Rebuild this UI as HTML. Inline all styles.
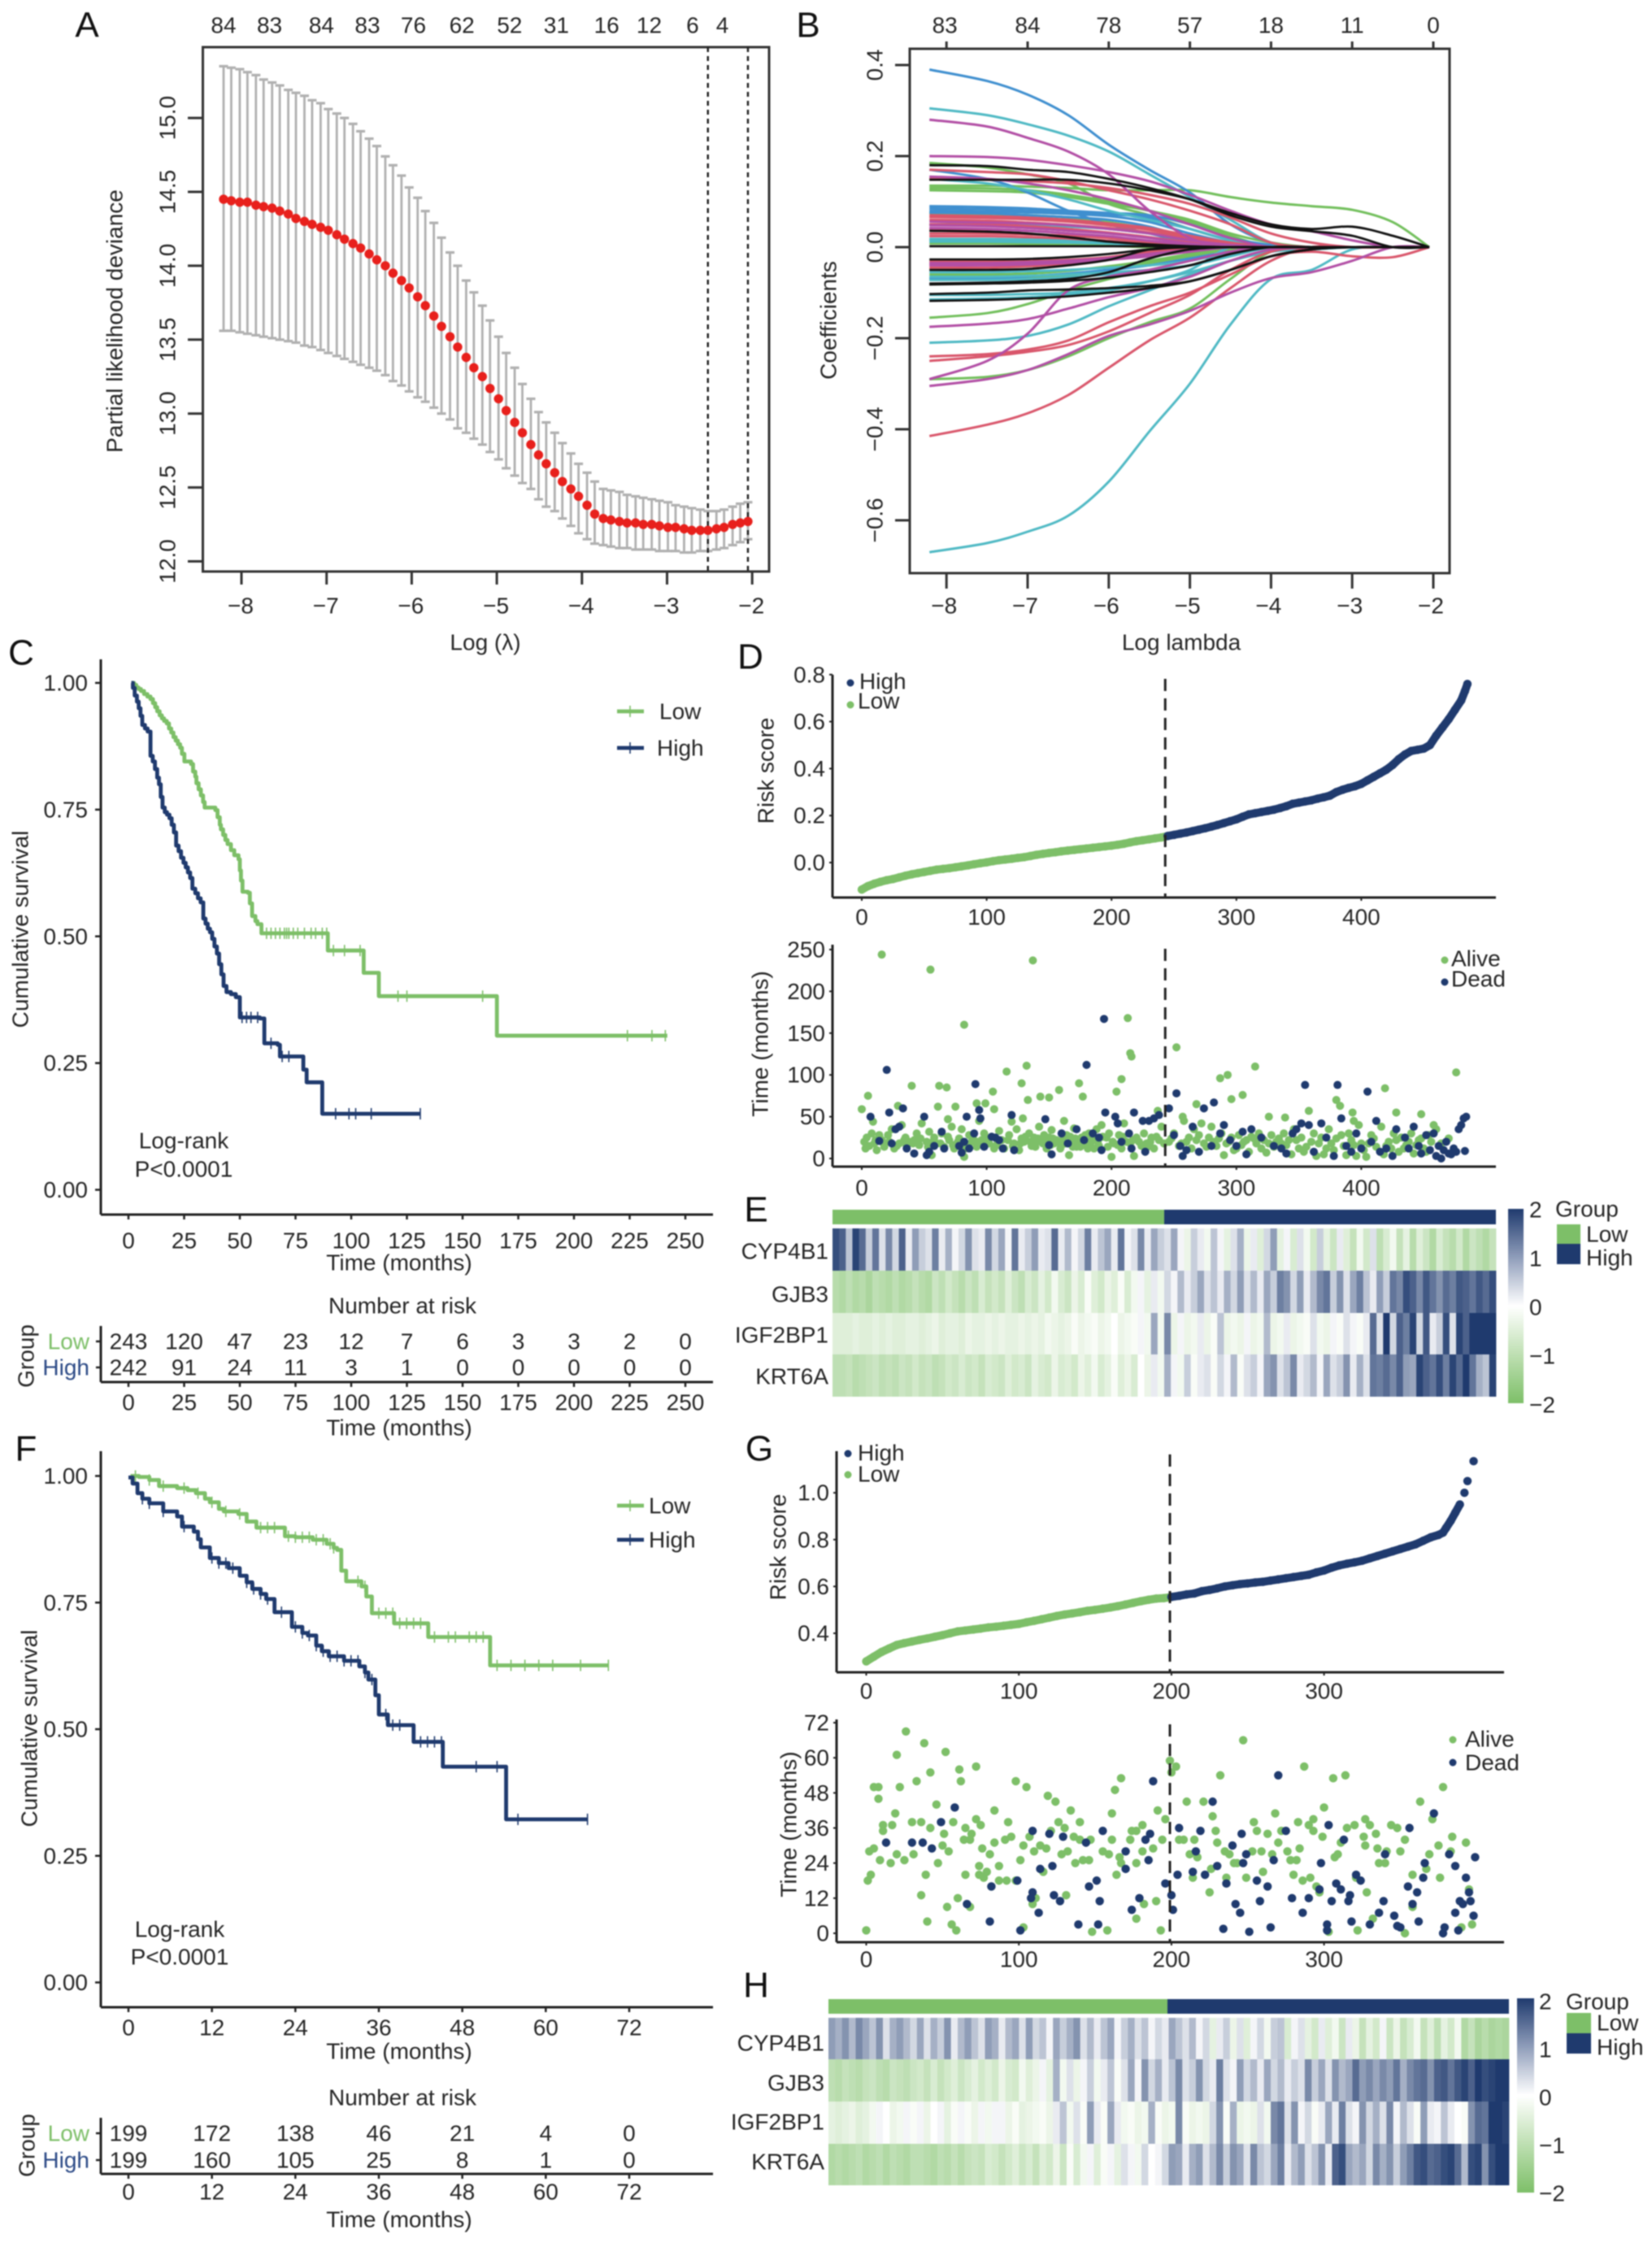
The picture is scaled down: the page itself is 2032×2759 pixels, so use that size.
<!DOCTYPE html>
<html lang="en">
<head>
<meta charset="utf-8">
<title>Prognostic signature figure</title>
<style>
html,body{margin:0;padding:0;background:#fff}
svg{display:block;filter:blur(.7px)}
text{font-family:"Liberation Sans",sans-serif;font-size:28px;fill:#262626;dominant-baseline:central}
.m{text-anchor:middle}
.e{text-anchor:end}
.L{font-size:44px;fill:#111}
.lo{fill:#7dbf68}
.hi{fill:#2c4a86}
</style>
</head>
<body>
<svg id="figure" xmlns="http://www.w3.org/2000/svg" width="2032" height="2759" viewBox="0 0 2032 2759">
<defs>
<linearGradient id="heat-gradient" x1="0" y1="0" x2="0" y2="1">
<stop offset="0" stop-color="#1f3a6e"/><stop offset=".25" stop-color="#8f9dba"/><stop offset=".5" stop-color="#ffffff"/><stop offset=".75" stop-color="#bedfb2"/><stop offset="1" stop-color="#7dbf68"/>
</linearGradient>
</defs>
<rect width="2032" height="2759" fill="#fff"/>

<!-- Panel letters -->
<text class="L m" x="107" y="31">A</text>
<text class="L m" x="994" y="31">B</text>
<text class="L m" x="26" y="803">C</text>
<text class="L m" x="923" y="808">D</text>
<text class="L m" x="930" y="1488">E</text>
<text class="L m" x="32" y="1782">F</text>
<text class="L m" x="934" y="1782">G</text>
<text class="L m" x="930" y="2442">H</text>

<g id="panel-a">
<text class="m" transform="translate(141,395) rotate(-90)">Partial likelihood deviance</text>
<text class="m" x="597" y="790">Log (λ)</text>
</g>

<g id="panel-b">
<text class="m" transform="translate(1019,394) rotate(-90)">Coefficients</text>
<text class="m" x="1453" y="790">Log lambda</text>
</g>

<g id="panel-c">
<text class="m" transform="translate(25,1143) rotate(-90)">Cumulative survival</text>
<text class="m" x="491" y="1553">Time (months)</text>
<text class="m" x="226" y="1403">Log-rank</text>
<text class="m" x="226" y="1438">P&lt;0.0001</text>
<text x="811" y="875">Low</text>
<text x="808" y="920">High</text>
<text class="m" x="495" y="1606">Number at risk</text>
<text class="m" transform="translate(32,1668) rotate(-90)">Group</text>
<text class="e lo" x="110" y="1650">Low</text>
<text class="e hi" x="110" y="1682">High</text>
<text class="m" x="491" y="1756">Time (months)</text>
</g>

<g id="panel-d">
<text class="m" transform="translate(942,948) rotate(-90)">Risk score</text>
<text x="1057" y="838">High</text>
<text x="1055" y="862">Low</text>
<text class="m" transform="translate(935,1284) rotate(-90)">Time (months)</text>
<text x="1785" y="1179">Alive</text>
<text x="1785" y="1204">Dead</text>
</g>

<g id="panel-e">
<text class="e" x="1019" y="1539">CYP4B1</text>
<text class="e" x="1019" y="1592">GJB3</text>
<text class="e" x="1019" y="1642">IGF2BP1</text>
<text class="e" x="1019" y="1693">KRT6A</text>
<rect x="1855" y="1487" width="19" height="239" fill="url(#heat-gradient)"/>
<text x="1881" y="1488">2</text>
<text x="1881" y="1548">1</text>
<text x="1881" y="1608">0</text>
<text x="1881" y="1668">−1</text>
<text x="1881" y="1728">−2</text>
<text x="1913" y="1487">Group</text>
<rect x="1915" y="1506" width="29" height="24" fill="#7dbf68"/>
<rect x="1915" y="1530" width="29" height="25" fill="#1f3a6e"/>
<text x="1951" y="1518">Low</text>
<text x="1951" y="1547">High</text>
</g>

<g id="panel-f">
<text class="m" transform="translate(36,2126) rotate(-90)">Cumulative survival</text>
<text class="m" x="491" y="2523">Time (months)</text>
<text class="m" x="221" y="2373">Log-rank</text>
<text class="m" x="221" y="2407">P&lt;0.0001</text>
<text x="798" y="1852">Low</text>
<text x="798" y="1894">High</text>
<text class="m" x="495" y="2580">Number at risk</text>
<text class="m" transform="translate(33,2639) rotate(-90)">Group</text>
<text class="e lo" x="110" y="2624">Low</text>
<text class="e hi" x="110" y="2657">High</text>
<text class="m" x="491" y="2730">Time (months)</text>
</g>

<g id="panel-g">
<text class="m" transform="translate(957,1903) rotate(-90)">Risk score</text>
<text x="1055" y="1787">High</text>
<text x="1055" y="1813">Low</text>
<text class="m" transform="translate(970,2244) rotate(-90)">Time (months)</text>
<text x="1802" y="2139">Alive</text>
<text x="1802" y="2168">Dead</text>
</g>

<g id="panel-h">
<text class="e" x="1014" y="2513">CYP4B1</text>
<text class="e" x="1014" y="2562">GJB3</text>
<text class="e" x="1014" y="2610">IGF2BP1</text>
<text class="e" x="1014" y="2659">KRT6A</text>
<rect x="1866" y="2458" width="21" height="239" fill="url(#heat-gradient)"/>
<text x="1893" y="2462">2</text>
<text x="1893" y="2521">1</text>
<text x="1893" y="2580">0</text>
<text x="1893" y="2639">−1</text>
<text x="1893" y="2698">−2</text>
<text x="1926" y="2462">Group</text>
<rect x="1927" y="2476" width="30" height="25" fill="#7dbf68"/>
<rect x="1927" y="2501" width="30" height="25" fill="#1f3a6e"/>
<text x="1964" y="2488">Low</text>
<text x="1964" y="2518">High</text>
</g>
</svg>

<script>
// ---------- Panel A data ----------
const logLambdaA=[-8.21,-8.12,-8.02,-7.93,-7.83,-7.74,-7.64,-7.55,-7.45,-7.36,-7.26,-7.17,-7.07,-6.98,-6.88,-6.79,-6.69,-6.60,-6.50,-6.41,-6.31,-6.22,-6.12,-6.03,-5.93,-5.84,-5.74,-5.65,-5.55,-5.46,-5.36,-5.27,-5.17,-5.08,-4.98,-4.89,-4.79,-4.70,-4.60,-4.51,-4.42,-4.32,-4.23,-4.13,-4.04,-3.94,-3.85,-3.75,-3.66,-3.56,-3.47,-3.37,-3.28,-3.18,-3.09,-2.99,-2.90,-2.80,-2.71,-2.61,-2.52,-2.42,-2.33,-2.23,-2.14,-2.05];
const devianceMean=[14.45,14.44,14.43,14.43,14.41,14.40,14.39,14.37,14.35,14.32,14.30,14.28,14.26,14.24,14.21,14.18,14.15,14.12,14.08,14.04,14.00,13.95,13.90,13.85,13.79,13.73,13.66,13.59,13.52,13.45,13.38,13.31,13.25,13.17,13.10,13.02,12.94,12.87,12.79,12.72,12.66,12.60,12.54,12.49,12.44,12.38,12.32,12.29,12.28,12.27,12.26,12.26,12.25,12.25,12.24,12.23,12.23,12.22,12.21,12.21,12.21,12.22,12.23,12.25,12.26,12.27];
const devianceUpper=[15.35,15.34,15.33,15.31,15.29,15.26,15.24,15.22,15.19,15.17,15.15,15.12,15.10,15.06,15.03,15.00,14.96,14.91,14.86,14.81,14.74,14.68,14.61,14.53,14.46,14.37,14.29,14.19,14.09,14.00,13.90,13.82,13.73,13.63,13.52,13.41,13.31,13.20,13.10,13.01,12.94,12.87,12.80,12.73,12.66,12.60,12.54,12.49,12.48,12.47,12.45,12.44,12.43,12.42,12.41,12.40,12.38,12.37,12.36,12.35,12.34,12.34,12.35,12.37,12.39,12.40];
const devianceLower=[13.56,13.56,13.55,13.54,13.53,13.52,13.51,13.50,13.49,13.48,13.46,13.45,13.43,13.41,13.39,13.37,13.35,13.33,13.31,13.29,13.26,13.22,13.19,13.15,13.11,13.08,13.04,13.00,12.96,12.90,12.87,12.83,12.79,12.74,12.69,12.63,12.58,12.53,12.49,12.42,12.37,12.34,12.29,12.24,12.19,12.15,12.12,12.11,12.10,12.09,12.09,12.08,12.08,12.08,12.07,12.07,12.07,12.06,12.06,12.07,12.07,12.08,12.09,12.11,12.13,12.15];
const xTicksA=[-8,-7,-6,-5,-4,-3,-2];
const yTicksA=[12,12.5,13,13.5,14,14.5,15];
const topCountsA=[84,83,84,83,76,62,52,31,16,12,6,4];
const topPositionsA=[-8.21,-7.67,-7.06,-6.52,-5.98,-5.41,-4.85,-4.30,-3.71,-3.21,-2.70,-2.35];
const lambdaLinesA=[-2.52,-2.05];

// ---------- Panel B data ----------
const knotsB=[-8.21,-7.5,-7,-6.5,-6,-5.5,-5,-4.5,-4,-3.5,-3,-2.5,-2.05];
const xTicksB=[-8,-7,-6,-5,-4,-3,-2];
const yTicksB=[-.6,-.4,-.2,0,.2,.4];
const topCountsB=[83,84,78,57,18,11,0];
const coefRed=[[.17,.165,.16,.145,.125,.105,.08,.05,.01],[.15,.148,.145,.14,.13,.115,.095,.065,.03,.01],[.07,.068,.065,.06,.052,.042,.025,.01],[.066,.064,.061,.056,.048,.038,.02,.008],[.06,.058,.054,.049,.042,.032,.018],[.05,.049,.046,.04,.032,.022,.01],[.04,.039,.036,.03,.022,.012,.004],[.03,.03,.028,.025,.02,.012,.004],[.024,.024,.022,.019,.014,.008],[-.032,-.032,-.031,-.028,-.022,-.012,-.004],[-.038,-.038,-.036,-.03,-.022,-.01],[-.045,-.045,-.042,-.036,-.026,-.012],[-.24,-.235,-.225,-.205,-.165,-.13,-.1,-.06,-.02,-.01,-.02,-.022,0],[-.25,-.24,-.23,-.215,-.185,-.145,-.105,-.05,-.01],[-.415,-.39,-.365,-.325,-.265,-.205,-.155,-.09,-.03]];
const coefGreen=[[.185,.175,.16,.14,.095,.07,.04,.015],[.135,.135,.133,.13,.125,.125,.125,.11,.098,.09,.082,.055,0],[.13,.129,.125,.115,.1,.08,.06,.03,.01],[.125,.123,.12,.11,.095,.08,.055,.025],[.075,.073,.07,.065,.055,.04,.02],[.008,.008,.007,.005,.003],[-.06,-.06,-.058,-.052,-.042,-.03,-.015],[-.07,-.07,-.068,-.062,-.05,-.035,-.02,-.005],[-.155,-.145,-.125,-.095,-.07,-.05,-.03,-.01],[-.29,-.285,-.27,-.24,-.2,-.165,-.135,-.07,-.01]];
const coefCyan=[[.305,.29,.27,.245,.21,.16,.11,.06,.01],[.15,.14,.125,.105,.08,.06,.04,.015],[.018,.018,.017,.016,.014,.012,.008,.004],[.012,.012,.011,.01,.008,.005,.003],[.015,.015,.014,.013,.012,.01,.008,.004],[-.055,-.055,-.053,-.05,-.045,-.04,-.03,-.012],[-.065,-.065,-.063,-.06,-.055,-.05,-.04,-.02],[-.072,-.072,-.07,-.066,-.06,-.052,-.04,-.02],[-.105,-.105,-.103,-.1,-.09,-.075,-.055,-.03,-.01,-.005],[-.115,-.113,-.11,-.105,-.095,-.075,-.05],[-.21,-.205,-.195,-.17,-.13,-.095,-.06,-.03,-.01],[-.67,-.65,-.625,-.59,-.515,-.405,-.30,-.17,-.07,-.05,-.005],[.05,.05,.048,.045,.04,.03,.02,.01]];
const coefMagenta=[[.28,.265,.24,.21,.16,.08,.02],[.2,.198,.192,.18,.165,.145,.115,.08,.05,.035,.015],[.155,.15,.14,.125,.105,.08,.05,.02],[.056,.054,.052,.048,.04,.03,.015,.005],[.048,.046,.042,.036,.03,.02,.008],[.042,.04,.036,.03,.024,.014,.005],[-.035,-.035,-.033,-.03,-.024,-.015,-.006],[-.04,-.04,-.038,-.034,-.028,-.02,-.01],[-.29,-.25,-.19,-.095,-.065,-.05,-.03,-.01],[-.175,-.168,-.158,-.135,-.11,-.09,-.065,-.03,-.005],[-.305,-.29,-.27,-.235,-.195,-.17,-.14,-.10,-.068,-.055,-.03,0]];
const coefBlue=[[.39,.365,.335,.29,.225,.17,.12,.05,.01],[.17,.15,.12,.08,.05,.03,.01],[.09,.088,.085,.08,.075,.07,.05,.02,.005],[.085,.083,.08,.077,.072,.065,.04,.015],[.08,.078,.076,.073,.068,.055,.03,.01],[.076,.074,.07,.066,.06,.045,.02,.005],[-.068,-.068,-.064,-.058,-.05,-.04,-.025,-.01]];
const coefBlack=[[.18,.178,.17,.165,.15,.13,.105,.07,.045,.035,.025,0],[.148,.148,.148,.148,.14,.125,.105,.075,.05,.04,.045,.025,0],[.036,.034,.03,.022,.012,.006,.002],[.002,.002,.002,.002,.002,.002,.001],[-.027,-.027,-.026,-.022,-.015,-.005],[-.05,-.05,-.048,-.04,-.028,-.005],[-.08,-.078,-.075,-.07,-.055,-.025,-.005],[-.082,-.08,-.078,-.074,-.067,-.055,-.04,-.015],[-.103,-.1,-.095,-.093,-.09,-.085,-.075,-.05,-.02,-.005],[-.118,-.116,-.113,-.108,-.1,-.09,-.075,-.05,-.02,-.005]];

// ---------- Panel C data ----------
const xTicksC=[0,25,50,75,100,125,150,175,200,225,250];
const yTicksKm=[0,.25,.5,.75,1];
const yTickLabelsKm=['0.00','0.25','0.50','0.75','1.00'];
const lowTimesC=[1.3,2.5,3.5,4.5,5.6,7,8.5,9.9,11,12,12.9,14,15,16,17.2,18.2,19.2,20.2,21.2,22.2,23.2,24,25.1,28.1,29,30,30.5,31.5,32.5,33.5,34.2,39,40,41,41.5,42.5,43.5,44.5,46,47.5,49.4,50,50.5,51.2,53.6,54.5,55.5,57,57.9,59.7,89.5,105.6,112.4,165.4,241.9];
const lowSurvC=[1,.996,.991,.988,.984,.978,.973,.968,.96,.952,.944,.936,.93,.925,.92,.91,.902,.893,.886,.879,.872,.86,.845,.84,.825,.815,.802,.79,.778,.765,.754,.749,.735,.72,.711,.70,.69,.682,.67,.66,.652,.63,.61,.588,.586,.565,.54,.53,.524,.506,.472,.428,.382,.304,.304];
const highTimesC=[1.3,2,2.8,3.8,4.6,5.4,6.2,7.4,8.6,9.9,10.9,11.9,12.9,13.7,14.5,15.3,16.3,17.3,18.4,19.4,20.4,21.4,22.5,23.6,24.7,25.7,26.7,27.7,28.7,30,31.2,32.4,33.6,34.6,35.6,36.6,37.6,38.6,39.7,40.7,41.7,42.7,44,46,48.2,50,59,61,67,68,76,78.5,80,87,131];
const highSurvC=[1,.99,.975,.963,.95,.935,.917,.91,.904,.856,.845,.83,.813,.80,.775,.754,.745,.74,.733,.72,.705,.679,.668,.655,.645,.636,.626,.615,.594,.585,.575,.567,.535,.525,.515,.508,.495,.48,.466,.445,.425,.402,.39,.386,.38,.340,.338,.289,.286,.263,.263,.237,.212,.150,.150];
const lowCensorC=[62,64,66,68,70,71,72,74,76,79,82,84,87,89,92,97,104,121,125,159,224,235,241];
const highCensorC=[51,53,55,58,64,69,72,93,99,102,109,131];
const riskLowC=[243,120,47,23,12,7,6,3,3,2,0];
const riskHighC=[242,91,24,11,3,1,0,0,0,0,0];

// ---------- Panel D data ----------
const riskRanksD=[0,5,10,15,20,25,30,35,40,45,50,55,60,65,70,75,80,85,90,95,100,105,110,115,120,125,130,135,140,145,150,155,160,165,170,175,180,185,190,195,200,205,210,215,220,225,230,235,240,245,250,255,260,265,270,275,280,285,290,295,300,305,310,315,320,325,330,335,340,345,350,355,360,365,370,375,380,385,390,395,400,405,410,415,420,425,430,435,440,445,450,455,460,465,470,475,480,483,485];
const riskScoresD=[-.115,-.10,-.09,-.082,-.075,-.07,-.063,-.056,-.05,-.045,-.04,-.035,-.03,-.027,-.024,-.02,-.016,-.012,-.007,-.003,.001,.006,.01,.013,.016,.02,.023,.028,.033,.037,.041,.044,.048,.051,.054,.057,.06,.063,.066,.069,.072,.076,.08,.086,.091,.095,.099,.103,.107,.113,.118,.123,.128,.134,.14,.146,.153,.16,.168,.176,.184,.195,.205,.21,.215,.22,.225,.232,.24,.25,.255,.26,.265,.272,.278,.285,.30,.31,.318,.325,.335,.35,.365,.38,.395,.415,.44,.46,.475,.48,.485,.50,.54,.575,.61,.65,.69,.73,.76];
const splitD=243;
const xTicksD=[0,100,200,300,400];
const yTicksRiskD=[0,.2,.4,.6,.8];
const yTicksTimeD=[0,50,100,150,200,250];
const aliveRankD=[16,55,137,82,213,215,216,252,315,476,132,116,287,293,208,128,174,40,62,68,419,158,105,204,5,143,150,177,305,296,133,268,380,383,0,29,61,75,92,99,106,237,358,428,393,448,257,326,339,129,458,69,394,9,2,4,6,8,10,12,14,16,18,22,24,26,30,32,34,36,38,42,44,46,48,52,54,56,58,60,64,66,70,72,74,78,80,82,84,86,88,92,94,96,98,102,104,108,110,112,114,118,120,122,124,126,128,130,134,136,138,140,142,144,146,148,150,152,154,156,160,162,164,166,168,170,172,176,178,182,184,186,188,190,192,196,198,200,202,206,208,210,212,218,220,224,226,228,232,234,238,240,246,250,254,258,260,264,266,270,272,274,278,280,284,288,290,294,298,302,304,308,310,312,316,318,320,322,324,328,330,332,336,338,342,344,346,350,352,354,360,362,364,368,370,374,376,378,384,386,388,390,392,396,398,400,402,404,408,412,416,418,422,424,426,430,432,436,440,442,446,450,454,460,464,470,3,11,17,21,28,35,41,47,53,57,63,69,73,77,83,89,93,97,101,106,109,117,121,127,131,135,139,141,145,149,151,153,157,159,161,163,167,169,171,173,175,177,179,181,183,187,189,193,197,201,205,209,215,217,222,229,231,236,242,248,256,262,268,276,282,286,292,296,300,306,314,326,334,340,348,356,366,372,380,394,406,410,420,428,434,438,444,448,452,456];
const aliveTimeD=[244,226,237,160,168,126,122,133,110,103,111,104,96,100,95,90,90,87,87,85,84,82,80,80,75,74,73,74,76,71,70,65,70,63,59,63,62,62,66,66,59,57,57,55,55,53,50,50,49,48,40,47,45,44,20,25,15,30,18,10,28,22,14,20,35,12,18,40,22,15,20,22,30,16,42,20,32,4,25,18,30,14,22,38,12,24,35,2,17,28,20,14,45,22,30,18,26,16,33,22,12,28,44,18,35,10,24,20,30,15,25,20,38,22,28,12,25,34,18,22,16,45,28,4,20,36,14,25,18,30,22,12,35,15,40,25,30,2,18,28,12,42,20,3,25,15,30,18,25,12,22,38,20,30,15,45,20,12,35,28,42,18,25,38,15,30,4,20,10,28,16,22,8,26,18,30,12,22,7,28,14,20,18,30,22,5,35,12,25,8,20,30,3,25,5,35,18,10,28,15,4,30,22,3,40,18,10,2,28,14,38,5,20,12,30,8,25,16,30,6,22,12,28,35,18,24,12,22,19,28,15,25,18,24,14,20,18,26,16,20,12,24,20,16,24,12,20,22,15,18,26,20,14,24,18,22,16,24,20,12,22,18,26,14,24,20,14,22,28,12,18,24,20,26,14,20,16,26,18,22,20,14,20,26,18,24,18,25,22,14,20,24,18,25,12,20,24,18,24,16,22,14,18,12,24,16,18,24,15,22,12,20,16,24,8,20];
const deadRankD=[7,14,20,22,24,27,30,33,36,42,50,52,54,58,64,66,78,80,82,84,86,90,91,94,95,98,104,107,110,113,120,122,147,150,152,160,165,172,178,180,185,190,194,192,195,203,205,208,214,218,216,225,227,230,234,238,246,250,252,255,257,260,265,270,274,280,282,287,290,295,300,305,308,312,320,330,336,340,345,348,352,355,358,362,368,372,378,381,384,388,392,396,400,405,408,412,415,420,425,428,435,438,442,446,448,452,455,458,460,462,464,466,468,470,472,474,476,478,480,482,484,483];
const deadTimeD=[50,21,106,55,18,35,38,60,12,6,50,4,8,15,32,12,15,7,20,50,12,30,89,58,48,14,26,25,22,12,52,10,47,16,5,30,18,35,22,112,30,25,167,10,55,50,42,20,30,55,12,45,8,45,48,52,60,28,78,15,3,10,38,8,60,15,67,30,40,22,15,32,5,35,25,15,12,6,30,35,42,88,40,8,42,25,3,88,48,15,8,30,12,80,20,45,8,12,3,35,25,12,38,15,6,28,10,30,3,15,0,10,20,6,5,12,8,35,40,48,50,9];

// ---------- Heatmap E data ----------
const heatGenes=['CYP4B1','GJB3','IGF2BP1','KRT6A'];
const heatECyp=[1.8,1.6,.6,1.9,1.5,.5,1.4,.3,1.2,.4,1.6,.2,1.0,.5,.3,1.3,.2,.8,.1,.4,1.1,.3,.2,1.2,.4,.9,.1,1.4,.2,.5,1.0,.2,.3,1.5,.2,.7,.1,.4,1.3,.2,.6,.9,.2,1.4,.1,.3,1.2,.2,.9,.5,.3,.9,.1,-.3,.5,.2,-.2,.6,.1,-.4,.3,.8,-.3,.2,-.5,.4,1.0,-.4,.1,-.6,.3,-.2,-.7,.5,-.4,-.8,.2,-.5,-.9,-.2,-.7,.3,-1,-.6,-.2,-.9,-.4,-1.1,-.5,-.8,-1.2,-.6,-.9,-1.1,-.7,-1.2,-.8,-1,-1.2,-.9];
const heatEGjb=[-1.1,-1.2,-1,-1.2,-1.1,-1.3,-1,-1.1,-1.2,-1,-1.2,-1.1,-.9,-1.1,-1.2,-.8,-1,-.7,-.9,-1.1,-.8,-1,-.6,-.9,-.7,-.9,-.5,-.8,-1,-.6,-.8,-.4,-.7,-.2,-.6,-.8,-.3,-.6,-.1,-.5,-.7,-.3,-.5,-.1,-.6,-.2,.1,-.4,.2,-.2,.4,.1,.7,.2,.5,.9,.3,.6,.2,.8,.4,1,.3,.7,.2,.9,.5,1.3,1.1,.4,1.0,.2,.7,1.2,1.4,.5,1.1,.3,.9,1.3,.6,.2,1.0,.5,1.4,1.2,1.8,1.6,1.2,1.7,1.4,1.1,1.5,1.3,1.7,1.6,1.4,1.7,1.5,1.8];
const heatEIgf=[-.5,-.5,-.5,-.4,-.5,-.5,-.4,-.5,-.4,-.5,-.5,-.4,-.4,-.5,-.4,-.3,-.5,-.4,-.4,-.5,-.3,-.4,-.4,-.3,-.4,-.3,-.4,-.4,-.3,-.4,-.3,-.4,-.2,-.3,-.4,-.3,-.1,-.3,-.2,-.1,-.3,-.2,0,-.3,-.2,-.1,.1,-.2,.9,-.2,1.2,-.3,.1,-.3,-.2,.2,-.3,-.1,.6,-.3,-.2,-.3,.1,-.3,-.2,.7,-.3,-.2,.2,-.3,-.2,-.1,.3,-.2,-.3,.1,-.1,.3,.1,-.1,.2,1.5,.3,2,.4,1.6,1.3,1.9,.4,1.7,.2,.5,1.8,.3,1.9,1.6,2,2,2,2];
const heatEKrt=[-1,-1,-.9,-1.1,-1,-.9,-.8,-1,-.9,-1,-.8,-.9,-.7,-.9,-.8,-1,-.9,-.7,-.8,-.6,-.8,-.7,-.9,-.6,-.7,-.8,-.5,-.7,-.6,-.8,-.4,-.6,-.7,-.3,-.6,-.5,-.7,-.3,-.5,-.2,-.6,-.4,-.1,-.5,-.3,-.6,0,-.3,.2,-.2,.8,.1,-.2,.5,-.1,.2,.3,-.1,.4,.1,.7,-.1,.3,.5,.1,.9,1.1,.3,.6,1.2,.2,.4,.7,.1,.9,.3,.5,1.1,.2,.8,.3,1.4,1.3,1.5,1.2,1.6,1,.9,1.9,1.6,1.4,1.8,1.3,1.9,1.5,2,1.4,.8,.6,1.9];

// ---------- Panel F data ----------
const xTicksF=[0,12,24,36,48,60,72];
const lowTimesF=[.3,1.5,3,4.4,7,8.5,9.7,11,11.7,13,13.7,15.8,17,18.4,21.4,22.5,24,26.5,28.5,29.5,30,30.6,31.3,33.5,34.2,35,37.7,38.2,43,43.1,52,69];
const lowSurvF=[1,.998,.992,.98,.976,.972,.966,.955,.948,.935,.93,.925,.91,.898,.898,.881,.879,.874,.866,.858,.854,.813,.792,.782,.762,.729,.729,.709,.709,.682,.626,.626];
const highTimesF=[0,.6,1.3,2,3,5,7,7.7,9.4,10,10.4,11.7,13,14.4,16,17,17.8,19,19.8,21,22.5,23.5,25,25.8,27,27.8,28.8,31,33.2,34,34.5,35.5,36,37.2,37.3,41,45.2,54.3,66];
const highSurvF=[.997,.985,.966,.955,.946,.93,.92,.90,.89,.875,.859,.838,.828,.818,.803,.79,.777,.767,.757,.731,.731,.702,.69,.685,.665,.654,.644,.635,.624,.612,.598,.567,.529,.529,.508,.475,.426,.322,.322];
const lowCensorF=[1,3,5,8,10,12,14,16,19,20,21,23,24,25,26,27,28,29,29.5,33,34,36,37,38,39,40,41,42,44,46,47,49,50,51,53,55,57,59,61,65,69];
const highCensorF=[2,3,5,8,12,13,14,15,17,18,19,20,22,24,25,26,27,28,29,30,31,32,33,34,35,37,38,39,42,43,44,45,50,53,56,66];
const riskLowF=[199,172,138,46,21,4,0];
const riskHighF=[199,160,105,25,8,1,0];

// ---------- Panel G data ----------
const riskRanksG=[0,5,10,15,20,25,30,35,40,45,50,55,60,65,70,75,80,85,90,95,100,105,110,115,120,125,130,135,140,145,150,155,160,165,170,175,180,185,190,195,200,205,210,215,220,225,230,235,240,245,250,255,260,265,270,275,280,285,290,295,300,305,310,315,320,325,330,335,340,345,350,355,360,365,370,375,378,380,383,386,389,392,394,398];
const riskScoresG=[.28,.30,.32,.335,.35,.358,.365,.372,.378,.385,.392,.40,.408,.412,.416,.42,.425,.428,.432,.436,.44,.447,.453,.46,.467,.474,.48,.485,.49,.496,.50,.505,.51,.516,.523,.53,.537,.543,.548,.55,.555,.56,.566,.57,.58,.585,.592,.60,.605,.61,.613,.617,.62,.625,.63,.635,.64,.645,.65,.66,.668,.68,.69,.697,.703,.71,.72,.73,.74,.75,.76,.77,.78,.795,.81,.82,.83,.85,.88,.915,.95,1.0,1.05,1.135];
const splitG=199;
const xTicksG=[0,100,200,300];
const yTicksRiskG=[.4,.6,.8,1];
const yTicksTimeG=[0,12,24,36,48,60,72];
const aliveRankG=[0,1,3,2,5,5,8,8,9,11,11,16,17,19,20,20,22,25,26,30,31,33,36,36,38,39,42,40,42,46,47,51,52,50,54,53,56,59,57,60,61,62,64,65,65,68,68,69,72,72,74,75,74,76,77,79,81,82,84,84,87,87,93,91,92,95,98,98,101,103,103,105,107,109,110,111,114,116,118,119,121,124,126,128,130,134,132,131,136,140,140,137,142,146,148,147,155,158,161,161,159,163,164,167,166,167,173,174,177,177,177,181,182,181,190,191,193,194,196,188,199,200,203,205,208,210,212,214,217,215,221,222,226,227,229,230,232,225,235,236,238,241,243,247,249,253,254,256,259,260,263,266,268,270,272,276,278,280,282,284,283,286,287,290,291,293,293,295,297,299,300,303,306,307,309,311,314,315,320,321,322,326,327,327,328,330,332,334,335,336,340,341,344,348,350,353,353,358,358,363,369,371,367,375,376,378,383,384,390,393,395,397];
const aliveTimeG=[1,18,20,28,29,50,50,46,25,35,37,24,37,41,27,61,50,25,69,38,27,52,13,38,65,20,55,4,36,44,24,34,62,30,28,9,3,1,38,12,56,52,32,36,20,32,9,34,57,39,23,37,20,29,19,21,27,16,42,31,23,18,38,32,18,33,18,52,25,30,2,50,33,10,28,12,30,21,29,47,35,45,38,27,36,42,28,13,33,32,38,24,25,25,0.5,32,28,1,32,41,27,49,20,53,26,24,32,35,35,5,24,37,10,28,11,42,1,32,39,29,59,55,57,32,32,45,27,19,26,32,45,20,22,40,35,31,54,14,28,19,27,24,24,66,19,28,38,35,28,21,34,27,41,31,35,28,25,20,25,29,38,18,57,37,19,39,35,16,14,33,43,0.5,53,26,27,31,54,36,37,19,1,33,30,39,14,37,5,34,29,24,24,28,37,36,28,0,32,20,9,45,27,39,22,30,19,50,28,33,2,31,15,3];
const deadRankG=[13,30,37,43,49,58,66,82,81,99,101,108,109,109,113,114,122,120,123,127,129,139,144,146,151,152,153,155,170,170,174,179,183,185,186,188,196,200,201,204,205,214,216,219,222,227,230,234,236,240,242,245,246,247,249,251,256,258,263,265,267,270,275,279,286,290,297,298,302,302,303,305,308,311,313,316,317,318,321,324,330,336,339,340,346,348,350,355,356,361,358,362,365,366,372,378,379,382,386,386,388,389,391,393,395,396,398,399];
const deadTimeG=[31,31,31,29,38,43,10,16,4,18,1,12,14,35,7,22,23,34,13,11,33,3,31,16,18,3,11,35,22,28,8,12,32,25,34,52,17,13,8,20,36,21,28,35,20,45,23,1.5,17,30,10,7,34,24,27,0.5,18,11,16,2,25,54,35,12,7,12,15,24,3,1,37,11,17,15,32,11,13,4,20,18,3,7,11,27,6,2.5,2,16,36,14,10,4,19,24,41,0,2,27,7,23,1,11,10,19,14,11,6,26];

// ---------- Heatmap H data ----------
const heatHCyp=[1,.8,1.1,.7,1.2,.9,.6,1.1,.3,.8,1,.7,.4,.9,.3,.8,.5,1.1,.2,.7,1,.6,.3,1,.8,.2,.7,.9,.3,1,.4,.6,.1,.9,.5,.8,1.1,.3,.7,.2,.6,.9,.1,.5,.8,.3,.6,.1,.4,.2,.9,.6,.3,.7,.1,.4,-.4,.2,.5,-.3,.3,-.5,.1,.4,-.2,.5,.6,-.6,.1,.3,-.4,-.7,.2,-.5,-.2,-.8,.2,-.3,-.9,-.4,-.7,.1,-.8,-.3,-.9,-.6,-.2,-.9,-.5,-1,-.4,-.7,-.2,-1.2,-.9,-1.3,-1.1,-1.3,-1.2,-1.3];
const heatHGjb=[-1,-1.1,-.9,-1,-1.1,-.9,-.8,-1,-1.1,-.8,-.9,-1,-.8,-.7,-.9,-.6,-.9,-.7,-.5,-.8,-.6,-.4,-.7,-.5,-.7,-.3,-.6,-.7,-.2,-.5,-.3,.1,-.4,.8,-.2,.3,-.3,.1,.5,-.2,.2,.6,-.1,.3,.9,.1,1.1,.4,.8,.2,.6,1.2,.3,.5,1.1,.4,.2,1.3,.3,.1,1,.4,.7,.2,.9,.4,.7,.2,.5,.3,1.2,.5,.9,.3,1.1,.7,.9,1.5,1.0,1.2,.9,1.2,1.0,1.4,.8,1.2,1.4,1.5,1.1,1.6,1.7,1.4,1.7,1.9,1.6,2,1.8,1.9,2,2];
const heatHIgf=[-.4,-.5,-.4,-.3,-.5,-.4,-.2,.1,0,-.3,-.2,.1,-.1,.1,-.3,0,.1,-.4,-.1,.1,-.1,-.3,.1,-.2,.1,.1,-.3,-.1,-.4,-.3,-.2,-.1,-.3,.2,.6,-.2,.3,-.1,1,.2,-.1,.9,.2,-.2,-.1,-.3,-.2,.8,-.1,-.3,-.2,1.2,-.1,-.3,-.2,-.3,.4,1.1,-.1,.8,-.3,-.2,-.3,.3,-.2,1.2,1.4,.3,1.1,.1,.4,-.1,.2,.9,.2,1.3,.3,.1,1.1,.4,.8,.3,1.2,.1,.7,.3,-.1,1,.2,.1,.6,.2,0,-.1,1.1,1.5,1.4,2,2,1.9];
const heatHKrt=[-1.2,-1.1,-1.2,-1.1,-1,-1.2,-1.1,-1,-1.2,-1,-1.1,-1.2,-1,-1,-1.1,-1.2,-1,-1.1,-.9,-1.1,-.9,-.8,-.9,-.6,-.7,-.9,-.7,-.5,-.8,-.6,-.9,-.5,-.7,-.3,-.8,-.1,-.6,-.2,.1,-.5,-.1,.1,-.4,.3,.1,-.2,.4,0,.1,.4,1,.9,.2,.8,1,.3,.7,1.2,.5,1.1,.9,.3,1.2,.6,.4,.9,1.3,.2,.7,1,.3,.6,1.1,.2,1.6,1.8,.9,.7,.9,.4,1.2,.8,1.1,.5,1.0,1.3,1.7,1.8,1.5,1.6,1.8,1.9,1.5,.7,1.8,1.9,1.1,1.8,2,2];

// ---------- Drawing helpers ----------
const NS='http://www.w3.org/2000/svg';
const GREEN='#7dbf68',NAVY='#1f3a6e';
function add(parent,tag,attrs,name){
  const el=document.createElementNS(NS,tag);
  for(const k in attrs)el.setAttribute(k,attrs[k]);
  
  
  parent.appendChild(el);
  return el;
}
function seg(p,x1,y1,x2,y2,color,w,name,dash){
  const a={x1:x1,y1:y1,x2:x2,y2:y2,stroke:color,'stroke-width':w};
  if(dash)a['stroke-dasharray']=dash;
  return add(p,'line',a,name);
}
function label(p,x,y,str,cls,rot,name){
  const a={};
  if(cls)a['class']=cls;
  if(rot){a.transform='translate('+x+','+y+') rotate(-90)';}else{a.x=x;a.y=y;}
  const t=add(p,'text',a,name);
  t.textContent=str;
  return t;
}
function fmt(v){return String(v).replace('-','−');}
function dot(p,x,y,r,color,name){return add(p,'circle',{cx:x,cy:y,r:r,fill:color},name);}
function smooth(pts){
  let d='M'+pts[0][0]+' '+pts[0][1];
  for(let i=0;i<pts.length-1;i++){
    const p0=pts[Math.max(i-1,0)],p1=pts[i],p2=pts[i+1],p3=pts[Math.min(i+2,pts.length-1)];
    d+=' C'+(p1[0]+(p2[0]-p0[0])/6)+' '+(p1[1]+(p2[1]-p0[1])/6)+' '+(p2[0]-(p3[0]-p1[0])/6)+' '+(p2[1]-(p3[1]-p1[1])/6)+' '+p2[0]+' '+p2[1];
  }
  return d;
}

// ---------- Panel A ----------
(function(){
  const p=document.getElementById('panel-a');
  const x=v=>297+(v+8)*104.7, y=v=>690.5-(v-12)*181.8;
  add(p,'rect',{x:249.5,y:58,width:696.5,height:645,fill:'none',stroke:'#333',"stroke-width":3},'plot-frame');
  xTicksA.forEach(t=>{
    seg(p,x(t),703,x(t),719,'#333',3,'x-tick');
    label(p,x(t)-1,745,fmt(t),'m',false,'x-tick-label');
  });
  yTicksA.forEach(t=>{
    seg(p,249.5,y(t),231,y(t),'#333',3,'y-tick');
    label(p,206,y(t),t.toFixed(1),'m',true,'y-tick-label');
  });
  topCountsA.forEach((c,i)=>label(p,x(topPositionsA[i]),31,String(c),'m',false,'top-count-label'));
  logLambdaA.forEach((l,i)=>{
    const px=x(l);
    seg(p,px,y(devianceUpper[i]),px,y(devianceLower[i]),'#b0b0b0',2.8,'error-bar');
    seg(p,px-5.5,y(devianceUpper[i]),px+5.5,y(devianceUpper[i]),'#b0b0b0',3.2,'error-cap-upper');
    seg(p,px-5.5,y(devianceLower[i]),px+5.5,y(devianceLower[i]),'#b0b0b0',3.2,'error-cap-lower');
  });
  lambdaLinesA.forEach(l=>seg(p,x(l),58,x(l),703,'#222',2.5,'lambda-line','6 5'));
  logLambdaA.forEach((l,i)=>dot(p,x(l),y(devianceMean[i]),5.7,'#e8201c','deviance-point'));
})();

// ---------- Panel B ----------
(function(){
  const p=document.getElementById('panel-b');
  const x=v=>1763+(v+2)*99.8, y=v=>304-560*v;
  const groups=[[coefGreen,'#72bf5c'],[coefBlue,'#3f8fcf'],[coefCyan,'#4fb9c4'],[coefRed,'#d9566b'],[coefMagenta,'#b24fa5'],[coefBlack,'#111111']];
  groups.forEach(g=>g[0].forEach(s=>{
    const pts=knotsB.map((k,i)=>[x(k),y(s[i]||0)]);
    add(p,'path',{d:smooth(pts),fill:'none',stroke:g[1],'stroke-width':g[1]==='#111111'?2.8:3},'coefficient-path');
  }));
  add(p,'rect',{x:1119,y:60,width:664,height:645,fill:'none',stroke:'#333',"stroke-width":3},'plot-frame');
  xTicksB.forEach((t,i)=>{
    seg(p,x(t),705,x(t),724,'#333',3,'x-tick');
    seg(p,x(t),60,x(t),51,'#333',3,'top-tick');
    label(p,x(t)-3,745,fmt(t),'m',false,'x-tick-label');
    label(p,x(t)-(i===0?2:0),31,String(topCountsB[i]),'m',false,'top-count-label');
  });
  yTicksB.forEach(t=>{
    seg(p,1119,y(t),1101,y(t),'#333',3,'y-tick');
    label(p,1076,y(t),fmt(t.toFixed(1)),'m',true,'y-tick-label');
  });
})();

// ---------- Survival helper ----------
function drawKm(p,x,y,times,surv,censor,color,name){
  let d='M'+x(times[0])+' '+y(surv[0]);
  times.forEach((t,i)=>{d+=' H'+x(t)+' V'+y(surv[i]);});
  censor.forEach(c=>{
    let s=surv[0];
    times.forEach((t,i)=>{if(t<=c)s=surv[i];});
    seg(p,x(c),y(s)-7,x(c),y(s)+7,color,1.6,name+'-censor-mark');
  });
  add(p,'path',{d:d,fill:'none',stroke:color,'stroke-width':4.8,'stroke-linejoin':'round'},name+'-curve');
}
function drawRiskTable(p,x,ticks,low,high,yLow,yHigh,yTop,yAxis,yTick,labels){
  seg(p,124,yTop,124,yAxis,'#222',3,'risk-table-y-axis');
  seg(p,124,yAxis,877,yAxis,'#222',3,'risk-table-x-axis');
  seg(p,124,yLow,118,yLow,'#222',2.5,'risk-table-tick-low');
  seg(p,124,yHigh,118,yHigh,'#222',2.5,'risk-table-tick-high');
  ticks.forEach((t,i)=>{
    seg(p,x(t),yAxis,x(t),yAxis+6,'#222',2.5,'risk-table-x-tick');
    label(p,x(t),yLow,String(low[i]),'m',false,'risk-count-low');
    label(p,x(t),yHigh,String(high[i]),'m',false,'risk-count-high');
    label(p,x(t),yTick,String(labels[i]),'m',false,'risk-table-x-tick-label');
  });
}

// ---------- Panel C ----------
(function(){
  const p=document.getElementById('panel-c');
  const x=v=>158+v*2.74, y=v=>1463.5-v*623.5;
  seg(p,124,811,124,1494,'#222',3,'y-axis');
  seg(p,124,1494,877,1494,'#222',3,'x-axis');
  yTicksKm.forEach((t,i)=>{
    seg(p,124,y(t),117,y(t),'#222',2.5,'y-tick');
    label(p,108,y(t),yTickLabelsKm[i],'e',false,'y-tick-label');
  });
  xTicksC.forEach(t=>{
    seg(p,x(t),1494,x(t),1500,'#222',2.5,'x-tick');
    label(p,x(t),1526,String(t),'m',false,'x-tick-label');
  });
  drawKm(p,x,y,lowTimesC,lowSurvC,lowCensorC,GREEN,'low-risk');
  drawKm(p,x,y,highTimesC,highSurvC,highCensorC,NAVY,'high-risk');
  seg(p,759,875,792,875,GREEN,4.8,'legend-line-low');
  seg(p,775,868,775,882,GREEN,1.6,'legend-mark-low');
  seg(p,759,920,792,920,NAVY,4.8,'legend-line-high');
  seg(p,775,913,775,927,NAVY,1.6,'legend-mark-high');
  drawRiskTable(p,x,xTicksC,riskLowC,riskHighC,1650,1682,1631,1700,1725,xTicksC);
})();

// ---------- Risk plots helper ----------
function drawRisk(p,cfg){
  const xr=cfg.xr,yr=cfg.yr,yt=cfg.yt;
  seg(p,cfg.ax,cfg.rTop,cfg.ax,cfg.rBot,'#222',3,'risk-y-axis');
  seg(p,cfg.ax,cfg.rBot,cfg.xEnd,cfg.rBot,'#222',3,'risk-x-axis');
  seg(p,cfg.ax,cfg.tTop,cfg.ax,cfg.tBot,'#222',3,'time-y-axis');
  seg(p,cfg.ax,cfg.tBot,cfg.xEnd,cfg.tBot,'#222',3,'time-x-axis');
  cfg.yTicksRisk.forEach(t=>{
    seg(p,cfg.ax,yr(t),cfg.ax-4,yr(t),'#222',2,'risk-y-tick');
    label(p,cfg.ax-9,yr(t),t.toFixed(1),'e',false,'risk-y-tick-label');
  });
  cfg.yTicksTime.forEach(t=>{
    seg(p,cfg.ax,yt(t),cfg.ax-4,yt(t),'#222',2,'time-y-tick');
    label(p,cfg.ax-9,yt(t),String(t),'e',false,'time-y-tick-label');
  });
  cfg.xTicks.forEach(t=>{
    seg(p,xr(t),cfg.rBot,xr(t),cfg.rBot+4,'#222',2,'risk-x-tick');
    seg(p,xr(t),cfg.tBot,xr(t),cfg.tBot+4,'#222',2,'time-x-tick');
    label(p,xr(t),cfg.rLabel,String(t),'m',false,'risk-x-tick-label');
    label(p,xr(t),cfg.tLabel,String(t),'m',false,'time-x-tick-label');
  });
  cfg.riskRanks.forEach((r,i)=>{
    const col=r<=cfg.split?GREEN:NAVY;
    if(i<cfg.riskRanks.length-1){
      const x1=xr(r),y1=yr(cfg.riskScores[i]),x2=xr(cfg.riskRanks[i+1]),y2=yr(cfg.riskScores[i+1]);
      if(Math.hypot(x2-x1,y2-y1)<14){
        const s=seg(p,x1,y1,x2,y2,col,10,'risk-curve-segment');
        s.setAttribute('stroke-linecap','round');
      }
    }
    dot(p,xr(r),yr(cfg.riskScores[i]),5.2,col,r<=cfg.split?'risk-point-low':'risk-point-high');
  });
  cfg.aliveRank.forEach((r,i)=>dot(p,xr(r),yt(cfg.aliveTime[i]),cfg.rad,GREEN,'alive-point'));
  cfg.deadRank.forEach((r,i)=>dot(p,xr(r),yt(cfg.deadTime[i]),cfg.rad,NAVY,'dead-point'));
  seg(p,xr(cfg.split),cfg.rDash,xr(cfg.split),cfg.rBot,'#222',3,'risk-cutoff-line','15 9');
  seg(p,xr(cfg.split),cfg.tDash,xr(cfg.split),cfg.tBot,'#222',3,'time-cutoff-line','15 9');
}

// ---------- Panel D ----------
(function(){
  const p=document.getElementById('panel-d');
  drawRisk(p,{xr:v=>1060+v*1.536,yr:v=>1061-289*v,yt:v=>1425-1.028*v,ax:1024,xEnd:1840,rTop:830,rBot:1104,tTop:1162,tBot:1435,rLabel:1128,tLabel:1461,yTicksRisk:yTicksRiskD,yTicksTime:yTicksTimeD,xTicks:xTicksD,riskRanks:riskRanksD,riskScores:riskScoresD,split:splitD,aliveRank:aliveRankD,aliveTime:aliveTimeD,deadRank:deadRankD,deadTime:deadTimeD,rad:5,rDash:835,tDash:1167});
  dot(p,1046,840,4.5,NAVY,'legend-dot-high');
  dot(p,1046,867,4.5,GREEN,'legend-dot-low');
  dot(p,1777,1181,4.5,GREEN,'legend-dot-alive');
  dot(p,1777,1208,4.5,NAVY,'legend-dot-dead');
})();

// ---------- Heatmap helper ----------
function heatColor(v){
  const c=Math.max(-2,Math.min(2,v))/2;
  const to=c<0?[125,191,104]:[31,58,110];
  const a=Math.abs(c);
  const m=i=>Math.round(255+(to[i]-255)*a);
  return 'rgb('+m(0)+','+m(1)+','+m(2)+')';
}
function drawHeat(p,x0,x1,split,barTop,barBot,rowEdges,rows){
  add(p,'rect',{x:x0,y:barTop,width:split-x0,height:barBot-barTop,fill:GREEN},'group-bar-low');
  add(p,'rect',{x:split,y:barTop,width:x1-split,height:barBot-barTop,fill:NAVY},'group-bar-high');
  rows.forEach((vals,r)=>{
    const w=(x1-x0)/vals.length;
    vals.forEach((v,i)=>add(p,'rect',{x:x0+i*w,y:rowEdges[r],width:w+.4,height:rowEdges[r+1]-rowEdges[r],fill:heatColor(v)},'heat-cell-'+heatGenes[r].toLowerCase()));
  });
}
drawHeat(document.getElementById('panel-e'),1024,1840,1432,1488,1506,[1511,1563,1615,1666,1718],[heatECyp,heatEGjb,heatEIgf,heatEKrt]);

// ---------- Panel F ----------
(function(){
  const p=document.getElementById('panel-f');
  const x=v=>158+v*8.555, y=v=>2438.5-v*623;
  seg(p,124,1785,124,2469,'#222',3,'y-axis');
  seg(p,124,2469,877,2469,'#222',3,'x-axis');
  yTicksKm.forEach((t,i)=>{
    seg(p,124,y(t),117,y(t),'#222',2.5,'y-tick');
    label(p,108,y(t),yTickLabelsKm[i],'e',false,'y-tick-label');
  });
  xTicksF.forEach(t=>{
    seg(p,x(t),2469,x(t),2475,'#222',2.5,'x-tick');
    label(p,x(t),2494,String(t),'m',false,'x-tick-label');
  });
  drawKm(p,x,y,lowTimesF,lowSurvF,lowCensorF,GREEN,'low-risk');
  drawKm(p,x,y,highTimesF,highSurvF,highCensorF,NAVY,'high-risk');
  seg(p,759,1852,792,1852,GREEN,4.8,'legend-line-low');
  seg(p,775,1845,775,1859,GREEN,1.6,'legend-mark-low');
  seg(p,759,1894,792,1894,NAVY,4.8,'legend-line-high');
  seg(p,775,1887,775,1901,NAVY,1.6,'legend-mark-high');
  drawRiskTable(p,x,xTicksF,riskLowF,riskHighF,2624,2657,2605,2674,2696,xTicksF);
})();

// ---------- Panel G ----------
(function(){
  const p=document.getElementById('panel-g');
  drawRisk(p,{xr:v=>1065.5+v*1.877,yr:v=>2009-288*(v-.4),yt:v=>2378-3.597*v,ax:1029,xEnd:1850,rTop:1785,rBot:2057,tTop:2115,tBot:2389,rLabel:2080,tLabel:2410,yTicksRisk:yTicksRiskG,yTicksTime:yTicksTimeG,xTicks:xTicksG,riskRanks:riskRanksG,riskScores:riskScoresG,split:splitG,aliveRank:aliveRankG,aliveTime:aliveTimeG,deadRank:deadRankG,deadTime:deadTimeG,rad:5.2,rDash:1789,tDash:2121});
  dot(p,1043,1788,4.5,NAVY,'legend-dot-high');
  dot(p,1043,1814,4.5,GREEN,'legend-dot-low');
  dot(p,1787,2140,4.5,GREEN,'legend-dot-alive');
  dot(p,1787,2168,4.5,NAVY,'legend-dot-dead');
})();

drawHeat(document.getElementById('panel-h'),1019,1856,1436,2459,2477,[2482,2533,2585,2637,2688],[heatHCyp,heatHGjb,heatHIgf,heatHKrt]);
</script>
</body>
</html>
